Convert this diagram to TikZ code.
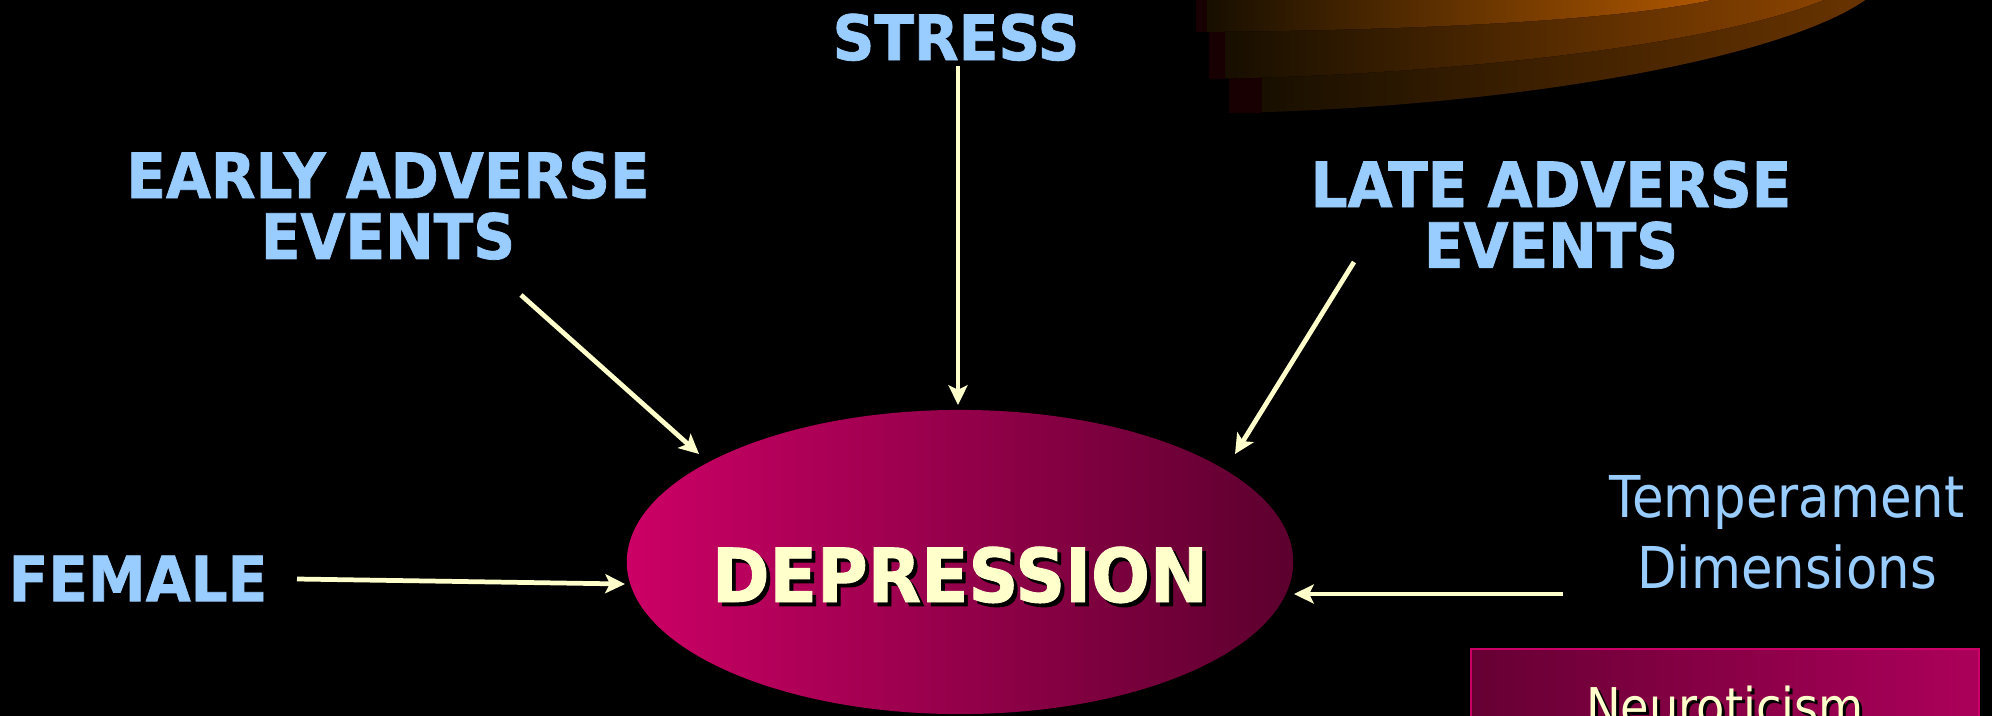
\documentclass[tikz,border=0pt]{standalone}
\usepackage{fontspec}
\usetikzlibrary{shapes.geometric,arrows.meta}
\newfontfamily\bfam[FakeStretch=0.93, BoldFeatures={FakeBold=1.2}]{DejaVu Sans}
\newfontfamily\rfam[FakeStretch=0.89]{DejaVu Sans}
\definecolor{lblue}{RGB}{153,204,255}
\definecolor{lyel}{RGB}{255,255,204}
\definecolor{mag}{RGB}{204,0,102}
\definecolor{magmid}{RGB}{180,0,90}
\definecolor{magdark}{RGB}{92,0,46}
\definecolor{boxl}{RGB}{102,0,51}
\definecolor{boxr}{RGB}{172,0,90}
\definecolor{dk}{RGB}{20,13,0}
\definecolor{strip}{RGB}{24,0,2}
\definecolor{orA}{RGB}{182,90,0}
\definecolor{orBm}{RGB}{95,48,0}
\definecolor{orB}{RGB}{140,68,0}
\definecolor{orCm}{RGB}{74,38,0}
\definecolor{orC}{RGB}{105,52,0}
\newcommand\shtext[2]{\makebox[0pt][l]{\hspace{#1}\raisebox{-#1}{\color{black}#2}}#2}
\tikzset{
  boldlbl/.style={inner sep=0pt, text=lblue, anchor=north, align=center,
    font=\bfam\bfseries\fontsize{17.75}{17.3}\selectfont},
  reglbl/.style={inner sep=0pt, text=lblue, anchor=north, align=center,
    font=\rfam\fontsize{16.4}{20.2}\selectfont},
  arr/.style={draw=lyel, line width=1.35pt, -{Stealth[length=5.6pt,width=5.4pt,inset=1.3pt]}},
}
\begin{document}
\begin{tikzpicture}[x=0.01cm, y=-0.01cm]
\useasboundingbox (0,0) rectangle (1992,715);
\fill[black] (-10,-10) rectangle (2002,725);
% orange stacked layers (top right)
\fill[left color=dk, middle color=orCm, right color=orC] (1229,-5) -- (1229,113) .. controls (1500,108) and (1790,60) .. (1872,-5) -- cycle;
\fill[strip] (1229,-5) rectangle (1262,113);
\fill[left color=dk, middle color=orBm, right color=orB] (1209,-5) -- (1209,79) .. controls (1480,74) and (1740,40) .. (1835,-5) -- cycle;
\fill[strip] (1209,-5) rectangle (1225,79);
\fill[left color=dk, right color=orA] (1196,-5) -- (1196,32) .. controls (1450,30) and (1650,18) .. (1732,-5) -- cycle;
\fill[strip] (1196,-5) rectangle (1207,32);
% ellipse
\node[ellipse, minimum width=6.66cm, minimum height=3.04cm, inner sep=0pt,
  left color=mag, middle color=magmid, right color=magdark,
  text=lyel, text height=0.8cm, text depth=0pt,
  font=\bfam\bfseries\fontsize{21.2}{24}\selectfont] (dep) at (960,562) {\makebox[0pt]{\shtext{1.1pt}{DEPRESSION}}};
% labels
\node[boldlbl] (stress) at (956,13) {STRESS};
\node[boldlbl] (early) at (388,151) {EARLY ADVERSE\\EVENTS};
\node[boldlbl] (late) at (1551,160) {LATE ADVERSE\\EVENTS};
\node[boldlbl] (female) at (138,555) {FEMALE};
\node[reglbl] (temp) at (1787,475) {Temperament\\Dimensions};
% neuroticism box
\node[draw=mag, line width=0.6pt, left color=boxl, right color=boxr,
  minimum width=5.07cm, minimum height=1.18cm, inner sep=0pt, text=lyel,
  font=\rfam\fontsize{14.8}{18}\selectfont] (neuro) at (1725,708) {\shtext{0.85pt}{Neuroticism}};
% arrow ends
\coordinate (stressTail) at (958,66);
\coordinate (stressTip) at (958,405);
\coordinate (earlyTail) at (521,295);
\coordinate (earlyTip) at (699,454);
\coordinate (lateTail) at (1354,262);
\coordinate (lateTip) at (1235,454);
\coordinate (femaleTail) at (297,579);
\coordinate (femaleTip) at (625,584);
\coordinate (tempTail) at (1563,594);
\coordinate (tempTip) at (1294,594);
\draw[arr] (stressTail) -- (stressTip);
\draw[arr] (earlyTail) -- (earlyTip);
\draw[arr] (lateTail) -- (lateTip);
\draw[arr] (femaleTail) -- (femaleTip);
\draw[arr] (tempTail) -- (tempTip);
\end{tikzpicture}
\end{document}
